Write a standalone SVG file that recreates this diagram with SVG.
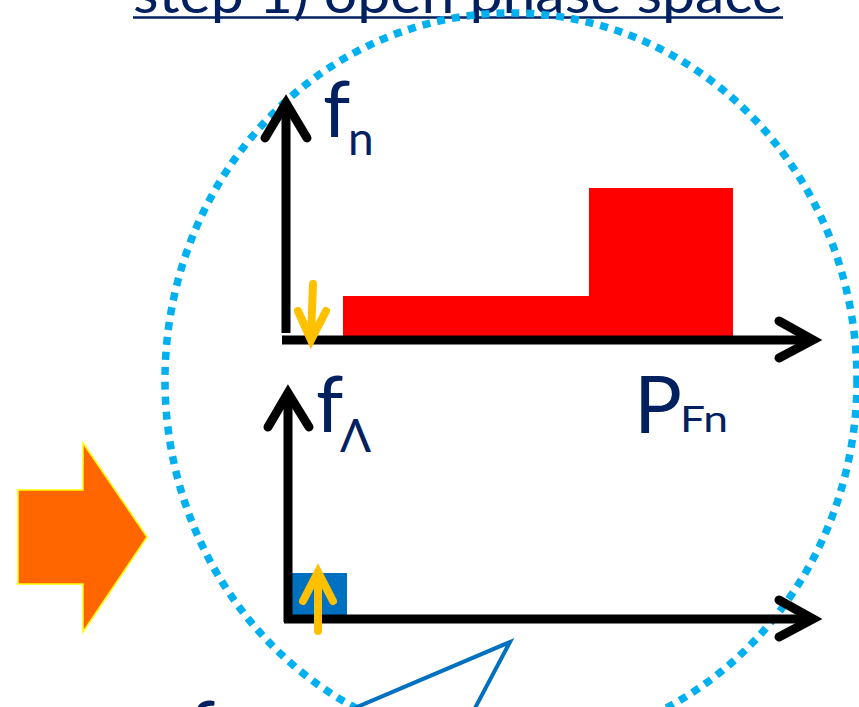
<svg xmlns="http://www.w3.org/2000/svg" width="859" height="707" viewBox="0 0 859 707">
<style>
.ax{fill:none;stroke:#000;stroke-width:9;stroke-linejoin:miter;stroke-linecap:butt}
.hd{fill:none;stroke:#000;stroke-width:9;stroke-linejoin:miter;stroke-linecap:round}
.yl{fill:none;stroke:#FFC000;stroke-width:8;stroke-linecap:round;stroke-linejoin:miter}
.t{font-family:Lato,"Open Sans","Liberation Sans",sans-serif;fill:#002060}
</style>
<rect width="859" height="707" fill="#fff"/>
<g id="title">
<text class="t" x="133" y="13" font-size="56" textLength="650" lengthAdjust="spacingAndGlyphs">step 1) open phase space</text>
<line x1="133" y1="17.5" x2="783" y2="17.5" stroke="#002060" stroke-width="2.5"/>
</g>
<g id="bigArrow">
<polygon points="18,490 83,490 83,443 147,537 83,632 83,584 18,584" fill="#FF6600" stroke="#FFFF00" stroke-width="1.5"/>
</g>
<g id="circle">
<ellipse cx="511" cy="380" rx="346" ry="367" fill="none" stroke="#00B0F0" stroke-width="7.5" stroke-dasharray="8 7"/>
</g>
<g id="topGraph">
<polygon id="fnDist" points="343,296 589,296 589,188 733,188 733,338 343,338" fill="#FF0000"/>
<g id="topAxes">
<line class="ax" x1="286" y1="104" x2="286" y2="333"/>
<polyline class="hd" points="265,138 286,103 307,138"/>
<line class="ax" x1="282" y1="340" x2="812" y2="340"/>
<polyline class="hd" points="779,321 813,340 779,358"/>
</g>
<g id="spinDown">
<line class="yl" x1="313" y1="284" x2="311" y2="336"/>
<polyline class="yl" points="298,311 311,340 326,311"/>
</g>
<text class="t" x="323" y="137" font-size="78">f</text>
<text class="t" x="348" y="155" font-size="46">n</text>
<text class="t" x="634" y="433" font-size="80">P</text>
<text class="t" x="680" y="432" font-size="36" textLength="48" lengthAdjust="spacingAndGlyphs">Fn</text>
</g>
<g id="bottomGraph">
<rect id="lambdaDist" x="292" y="573" width="55" height="47" fill="#0070C0"/>
<g id="bottomAxes">
<line class="ax" x1="288" y1="394" x2="288" y2="622"/>
<polyline class="hd" points="268,427 288,393 309,427"/>
<line class="ax" x1="284" y1="619" x2="812" y2="619"/>
<polyline class="hd" points="779,600 813,619 779,637"/>
</g>
<g id="spinUp">
<line class="yl" x1="318" y1="631" x2="318" y2="578"/>
<polyline class="yl" points="303,601 318,572 333,601"/>
</g>
<text class="t" x="316" y="432" font-size="78">f</text>
<text class="t" x="340" y="452" font-size="46">Λ</text>
</g>
<g id="callout">
<polyline points="350,710 510,642 474,710" fill="#fff" stroke="#0070C0" stroke-width="4" stroke-linejoin="miter"/>
</g>
<g id="partialLabel">
<text class="t" x="188" y="757" font-size="78">f</text>
</g>
</svg>
